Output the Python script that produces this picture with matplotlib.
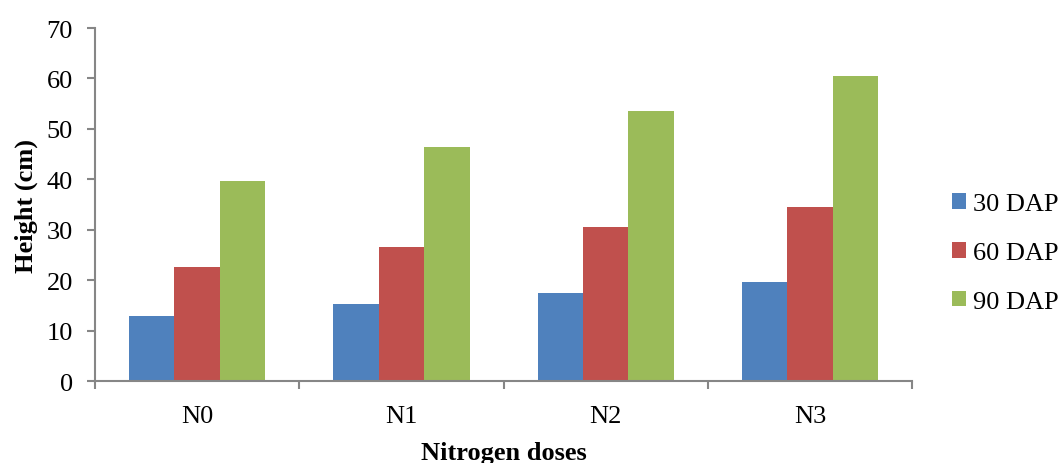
import matplotlib.pyplot as plt
import numpy as np

plt.rcParams['font.family'] = ['Liberation Serif', 'DejaVu Serif']

# Plant height by nitrogen dose at three sampling dates
doses = ['N0', 'N1', 'N2', 'N3']
dap_30 = [12.9, 15.2, 17.5, 19.7]
dap_60 = [22.6, 26.5, 30.5, 34.5]
dap_90 = [39.6, 46.5, 53.6, 60.4]
series_names = ['30 DAP', '60 DAP', '90 DAP']
colores = ['#4F81BD', '#C0504D', '#9BBB59']

fig = plt.figure(figsize=(10.62, 4.64), dpi=100)
ax = fig.add_axes([0.0895, 0.1767, 0.7693, 0.7608])

x = np.arange(len(doses))
ancho = 0.667 / 3
for i, (vals, nombre, c) in enumerate(zip([dap_30, dap_60, dap_90], series_names, colores)):
    ax.bar(x + (i - 1) * ancho, vals, ancho, color=c, label=nombre)

ax.set_xlim(-0.5, len(doses) - 0.5)
ax.set_ylim(0, 70)
ax.set_yticks(range(0, 71, 10))

# category labels centred, tick marks on the boundaries
ax.set_xticks(x)
ax.set_xticklabels(doses)
ax.set_xticks(np.arange(-0.5, len(doses), 1.0), minor=True)
ax.tick_params(axis='x', which='major', length=0, labelsize=19, pad=17)
ax.tick_params(axis='x', which='minor', length=6, color='#868686', width=1.5)
ax.tick_params(axis='y', length=6, color='#868686', width=1.5, labelsize=19, pad=10)

for lado in ['top', 'right']:
    ax.spines[lado].set_visible(False)
for lado in ['left', 'bottom']:
    ax.spines[lado].set_color('#868686')
    ax.spines[lado].set_linewidth(1.5)

ax.set_ylabel('Height (cm)', fontsize=19, fontweight='bold', labelpad=6)
ax.set_xlabel('Nitrogen doses', fontsize=19, fontweight='bold', labelpad=10)

fig.legend(loc='center left', bbox_to_anchor=(0.874, 0.4526), frameon=False,
           fontsize=19, handlelength=0.55, handleheight=0.55, handletextpad=0.25,
           labelspacing=1.0)

plt.savefig('out.png', dpi=100)
